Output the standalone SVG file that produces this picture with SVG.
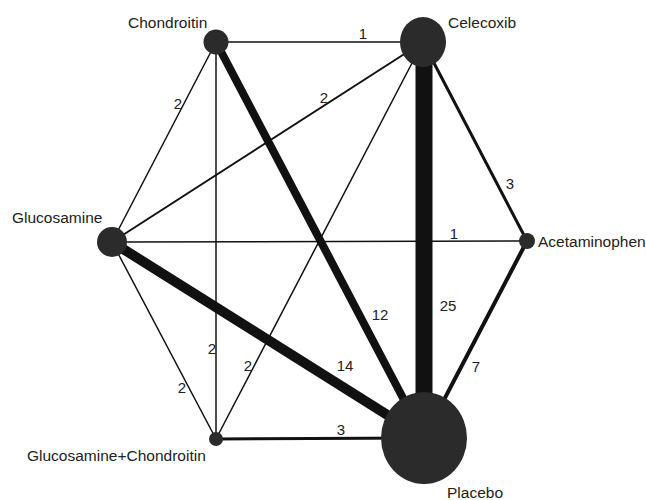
<svg xmlns="http://www.w3.org/2000/svg" width="646" height="500" viewBox="0 0 646 500">
<style>
.e{stroke:#111;fill:none;stroke-linecap:butt}
.n{fill:#2b2b2b}
.t{font-family:"Liberation Sans",Arial,sans-serif;font-size:15.5px;fill:#222}
.l{font-family:"Liberation Sans",Arial,sans-serif;font-size:15px;fill:#222;text-anchor:middle}
</style>
<rect width="646" height="500" fill="#fff"/>
<g id="connectors">
<line class="e" x1="216" y1="42" x2="423" y2="42" stroke-width="1.5"/>
<line class="e" x1="216" y1="42" x2="112" y2="242" stroke-width="1.5"/>
<line class="e" x1="216" y1="42" x2="216" y2="439" stroke-width="1.5"/>
<line class="e" x1="423" y1="42" x2="112" y2="242" stroke-width="2"/>
<line class="e" x1="423" y1="42" x2="216" y2="439" stroke-width="1.5"/>
<line class="e" x1="112" y1="242" x2="527" y2="241" stroke-width="1.5"/>
<line class="e" x1="112" y1="242" x2="216" y2="439" stroke-width="1.5"/>
<line class="e" x1="216" y1="42" x2="424" y2="438" stroke-width="8"/>
<line class="e" x1="424" y1="42" x2="424" y2="438" stroke-width="17"/>
<line class="e" x1="112" y1="242" x2="424" y2="438" stroke-width="10"/>
<line class="e" x1="423" y1="42" x2="527" y2="241" stroke-width="3"/>
<line class="e" x1="527" y1="241" x2="424" y2="438" stroke-width="4"/>
<line class="e" x1="216" y1="439" x2="424" y2="438" stroke-width="3"/>
<text class="l" x="363" y="39">1</text>
<text class="l" x="178" y="109">2</text>
<text class="l" x="324" y="103">2</text>
<text class="l" x="510" y="189">3</text>
<text class="l" x="454" y="239">1</text>
<text class="l" x="380" y="320">12</text>
<text class="l" x="448" y="311">25</text>
<text class="l" x="476" y="372">7</text>
<text class="l" x="345" y="371">14</text>
<text class="l" x="212" y="354">2</text>
<text class="l" x="248" y="371">2</text>
<text class="l" x="182" y="393">2</text>
<text class="l" x="341" y="435">3</text>
</g>
<g id="chondroitin">
<circle class="n" cx="216" cy="42" r="12.5"/>
<text class="t" x="128" y="28">Chondroitin</text>
</g>
<g id="celecoxib">
<ellipse class="n" cx="423" cy="42" rx="23" ry="25"/>
<text class="t" x="448" y="28">Celecoxib</text>
</g>
<g id="glucosamine">
<circle class="n" cx="112" cy="242" r="15"/>
<text class="t" x="12" y="223">Glucosamine</text>
</g>
<g id="acetaminophen">
<circle class="n" cx="527" cy="241" r="8"/>
<text class="t" x="538" y="247">Acetaminophen</text>
</g>
<g id="glucosamine-chondroitin">
<circle class="n" cx="216" cy="439" r="7"/>
<text class="t" x="27" y="461">Glucosamine+Chondroitin</text>
</g>
<g id="placebo">
<ellipse class="n" cx="424" cy="438" rx="43" ry="46"/>
<text class="t" x="447" y="498">Placebo</text>
</g>
</svg>
